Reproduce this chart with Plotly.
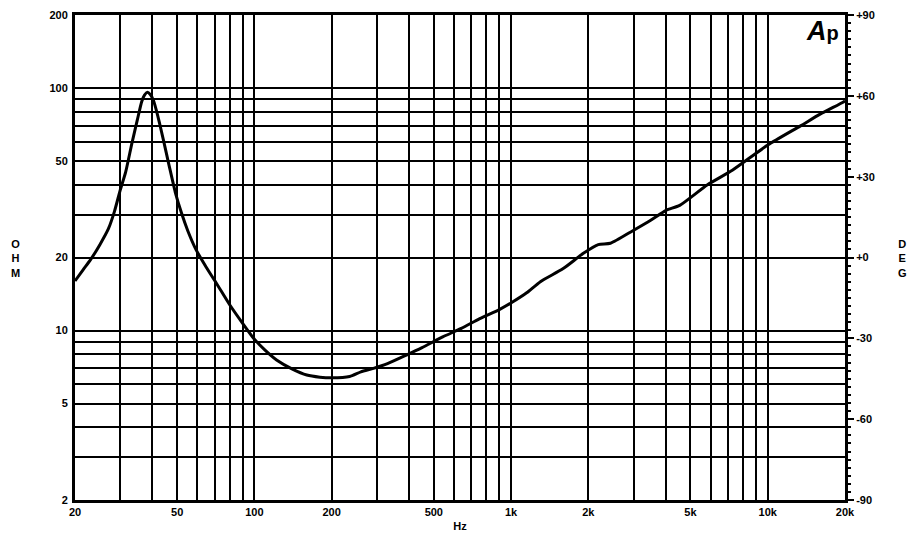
import plotly.graph_objects as go

# ---- data ----
freq_hz = [20, 21.5, 23, 25, 27, 28.5, 30, 31.5, 33.3, 35, 36.4, 37.3, 38.3, 39.3, 40.4,
           42, 44.2, 46.5, 49.3, 52, 55, 59.3, 65, 71.3, 80, 90, 100, 110, 122, 140, 160,
           180, 200, 235, 260, 291, 330, 391, 450, 544, 640, 755, 900, 1013, 1150, 1301,
           1596, 1913, 2186, 2438, 2981, 3500, 4017, 4540, 5825, 7278, 10000, 13420,
           16000, 19650, 20000]
impedance_ohm = [16.0, 17.8, 19.6, 22.6, 26.3, 31.0, 37.9, 45.0, 59.0, 74.0, 88.0, 93.5,
                 96.0, 94.0, 89.0, 77.0, 61.1, 48.0, 36.8, 30.5, 25.8, 21.5, 18.2, 15.6,
                 12.8, 10.7, 9.2, 8.3, 7.56, 6.95, 6.55, 6.42, 6.38, 6.46, 6.75, 6.98, 7.3,
                 7.92, 8.5, 9.43, 10.2, 11.2, 12.2, 13.1, 14.3, 15.9, 18.0, 20.8, 22.6, 22.9,
                 25.8, 28.5, 31.3, 32.8, 39.9, 45.8, 58.2, 69.8, 78.0, 87.4, 88.5]

x_grid = [20, 30, 40, 50, 60, 70, 80, 90, 100, 200, 300, 400, 500, 600, 700, 800, 900,
          1000, 2000, 3000, 4000, 5000, 6000, 7000, 8000, 9000, 10000, 20000]
x_labels = {20: "20", 50: "50", 100: "100", 200: "200", 500: "500", 1000: "1k",
            2000: "2k", 5000: "5k", 10000: "10k", 20000: "20k"}
y_grid = [2, 3, 4, 5, 6, 7, 8, 9, 10, 20, 30, 40, 50, 60, 70, 80, 90, 100, 200]
y_labels = {2: "2", 5: "5", 10: "10", 20: "20", 50: "50", 100: "100", 200: "200"}
deg_ticks = [-90, -60, -30, 0, 30, 60, 90]
deg_labels = ["-90", "-60", "-30", "+0", "+30", "+60", "+90"]

FONT = "Liberation Sans, Arial, sans-serif"

# the page body adds an 8px margin around the figure
OFF = 8
W, H = 918 - OFF, 542 - OFF
ML, MT = 75 - OFF, 15 - OFF
MR, MB = W - (845 - OFF), H - (500 - OFF)

fig = go.Figure()
fig.add_trace(go.Scatter(
    x=freq_hz, y=impedance_ohm, mode="lines",
    line=dict(color="black", width=3, shape="spline", smoothing=0.6),
    showlegend=False, hoverinfo="skip"))
# empty trace so the phase axis is drawn
fig.add_trace(go.Scatter(x=[], y=[], yaxis="y2", showlegend=False))

fig.update_layout(
    width=W, height=H,
    margin=dict(l=ML, r=MR, t=MT, b=MB, autoexpand=False),
    paper_bgcolor="white", plot_bgcolor="white",
    font=dict(family=FONT, color="black", size=11),
    xaxis=dict(
        type="log", range=[1.30103, 4.30103], automargin=False,
        tickmode="array", tickvals=x_grid,
        ticktext=[x_labels.get(v, "") for v in x_grid],
        showgrid=True, gridcolor="black", gridwidth=2,
        showline=True, linecolor="black", linewidth=3, mirror=True,
        ticks="", zeroline=False,
        tickfont=dict(family=FONT, size=11, weight="bold"),
        title=dict(text="Hz", font=dict(family=FONT, size=11, weight="bold"), standoff=6),
    ),
    yaxis=dict(
        type="log", range=[0.30103, 2.30103], automargin=False,
        tickmode="array", tickvals=y_grid,
        ticktext=[y_labels.get(v, "") for v in y_grid],
        showgrid=True, gridcolor="black", gridwidth=2,
        showline=True, linecolor="black", linewidth=3, mirror=True,
        ticks="", zeroline=False, ticklabelstandoff=2,
        tickfont=dict(family=FONT, size=11, weight="bold"),
    ),
    yaxis2=dict(
        overlaying="y", side="right", range=[-90, 90], automargin=False,
        tickmode="array", tickvals=deg_ticks, ticktext=deg_labels,
        ticks="outside", ticklen=8, tickwidth=2, tickcolor="black",
        minor=dict(tickmode="linear", tick0=-90, dtick=3, ticks="outside",
                   ticklen=5, tickwidth=1.5, tickcolor="black", showgrid=False),
        showgrid=False, zeroline=False, showline=False,
        tickfont=dict(family=FONT, size=11, weight="bold"),
    ),
    annotations=[
        dict(text="O<br>H<br>M", x=15, y=258, xref="paper", yref="paper",
             showarrow=False, font=dict(family=FONT, size=11, weight="bold"),
             xanchor="center", yanchor="middle"),
        dict(text="D<br>E<br>G", x=903, y=258, xref="paper", yref="paper",
             showarrow=False, font=dict(family=FONT, size=11, weight="bold"),
             xanchor="center", yanchor="middle"),
        dict(text="<i>A</i><span style='font-size:20px'>p</span>", x=841, y=31,
             xref="paper", yref="paper", showarrow=False,
             font=dict(family=FONT, size=27, weight="bold"),
             xanchor="right", yanchor="middle"),
    ],
)

# convert page-pixel annotation positions to paper coords
pw = W - ML - MR
ph = H - MT - MB
for a in fig.layout.annotations:
    px, py = a.x, a.y
    a.x = (px - 75) / pw
    a.y = 1 - (py - 15) / ph

fig.write_html("out.html")
